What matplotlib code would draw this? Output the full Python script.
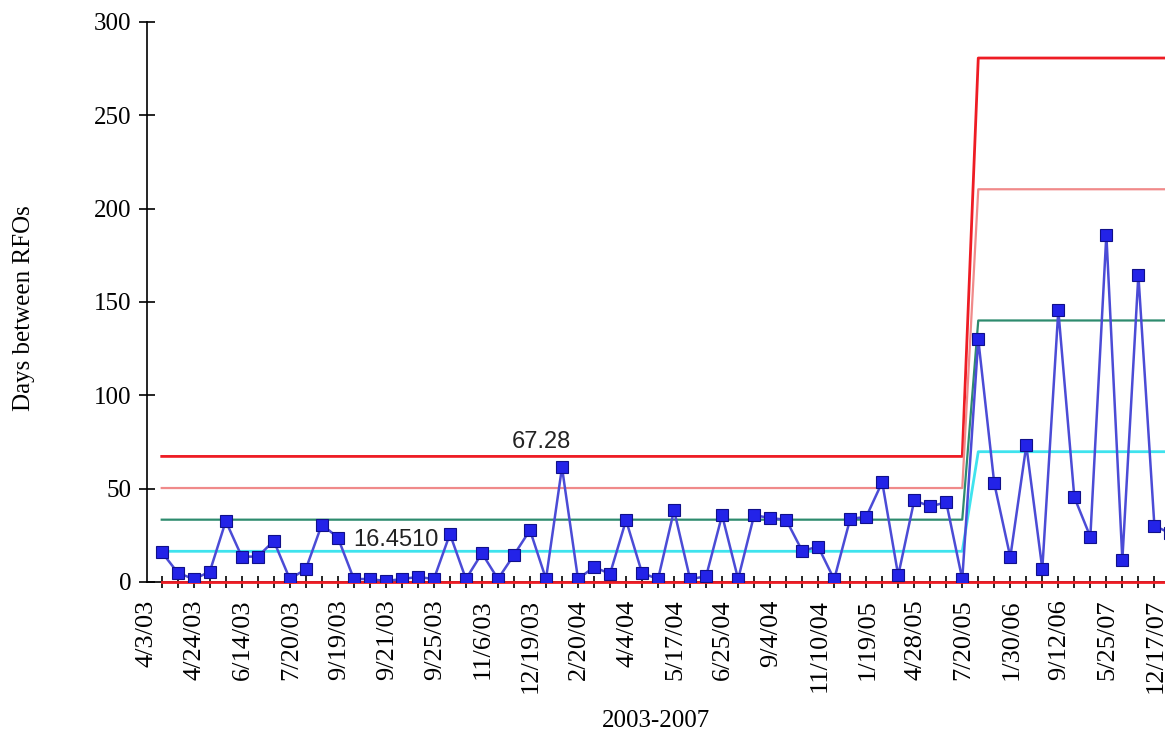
import numpy as np
import matplotlib.pyplot as plt
import matplotlib.transforms as mtransforms

# Days between RFOs, one value per event
days = [16, 5, 1.5, 5.5, 32.6, 13.6, 13.6, 22, 1.6, 6.9,
        30.8, 23.8, 1.6, 1.6, 0.5, 1.6, 2.7, 1.6, 25.7, 1.6,
        15.4, 1.6, 14.5, 27.8, 1.6, 61.4, 1.6, 8, 4.4, 33.1,
        4.8, 1.6, 38.4, 1.6, 3, 35.8, 1.6, 35.8, 34.3, 33.3,
        16.7, 18.9, 1.4, 33.8, 34.9, 53.5, 3.5, 43.7, 40.5, 42.7,
        1.5, 130, 52.8, 13.3, 73.2, 7, 145.5, 45.4, 24.2, 186,
        12, 164.5, 30.2, 26]

# tick labels, one every 3rd point
date_labels = ['4/3/03', '4/24/03', '6/14/03', '7/20/03', '9/19/03', '9/21/03',
               '9/25/03', '11/6/03', '12/19/03', '2/20/04', '4/4/04', '5/17/04',
               '6/25/04', '9/4/04', '11/10/04', '1/19/05', '4/28/05', '7/20/05',
               '1/30/06', '9/12/06', '5/25/07', '12/17/07']

# control limits: centre, +1 sigma, +2 sigma, UCL for each phase
phase1_limits = [16.451, 33.39, 50.34, 67.28]
phase2_limits = [69.8, 140.1, 210.4, 280.7]
phase2_start = 51
lcl = 0

n = len(days)
x = np.arange(n)

def limit_series(i):
    return np.where(x < phase2_start, phase1_limits[i], phase2_limits[i])

fig = plt.figure(figsize=(11.65, 7.36), dpi=100)
ax = fig.add_axes([147 / 1165, 1 - 582 / 736, (1180 - 147) / 1165, 560 / 736])

ax.plot(x, limit_series(3), color='#ee1c24', lw=2, zorder=2)
ax.plot(x, limit_series(2), color='#f08a8a', lw=1.6, zorder=2)
ax.plot(x, limit_series(1), color='#2e8b6e', lw=1.6, zorder=2)
ax.plot(x, limit_series(0), color='#3fe3ee', lw=2, zorder=2)
ax.plot(x, np.full(n, lcl), color='#ee1c24', lw=2, zorder=2, clip_on=False)

ax.plot(x, days, color='#4b4bd6', lw=1.8, marker='s', markersize=8,
        markerfacecolor='#2323e8', markeredgecolor='#10108a', markeredgewidth=0.8, zorder=3)

ax.text(23.7, 75, f'{phase1_limits[3]:.2f}', fontsize=17, family='Liberation Sans',
        ha='center', va='center', color='#222222')
ax.text(14.6, 22.5, f'{phase1_limits[0]:.4f}', fontsize=17, family='Liberation Sans',
        ha='center', va='center', color='#222222')

ax.set_xlim(-0.92, 63.6)
ax.set_ylim(0, 300)
ax.set_yticks(range(0, 301, 50))
ax.set_xticks(x)
labels = [''] * n
for k, lab in enumerate(date_labels):
    labels[k * 3] = lab
ax.set_xticklabels(labels, rotation=90, fontsize=19, family='Liberation Serif')
ax.tick_params(axis='y', direction='inout', length=12, width=1.2, pad=5,
               labelsize=18, labelfontfamily='Liberation Serif')
ax.tick_params(axis='x', direction='inout', length=9, width=1.2, pad=8)

offset = mtransforms.ScaledTranslation(-0.15, 0, fig.dpi_scale_trans)
for lab in ax.xaxis.get_majorticklabels():
    lab.set_transform(lab.get_transform() + offset)

for side in ['top', 'right']:
    ax.spines[side].set_visible(False)
ax.spines['left'].set_linewidth(1.2)
ax.spines['bottom'].set_linewidth(1.2)
ax.spines['bottom'].set_zorder(1)

ax.set_ylabel('Days between RFOs', fontsize=18, family='Liberation Serif')
ax.yaxis.set_label_coords((35 - 147) / 1033, (582 - 308) / 560)
ax.set_xlabel('2003-2007', fontsize=18, family='Liberation Serif')
ax.xaxis.set_label_coords((656 - 147) / 1033, (582 - 710) / 560)

fig.savefig('out.png', dpi=100)
